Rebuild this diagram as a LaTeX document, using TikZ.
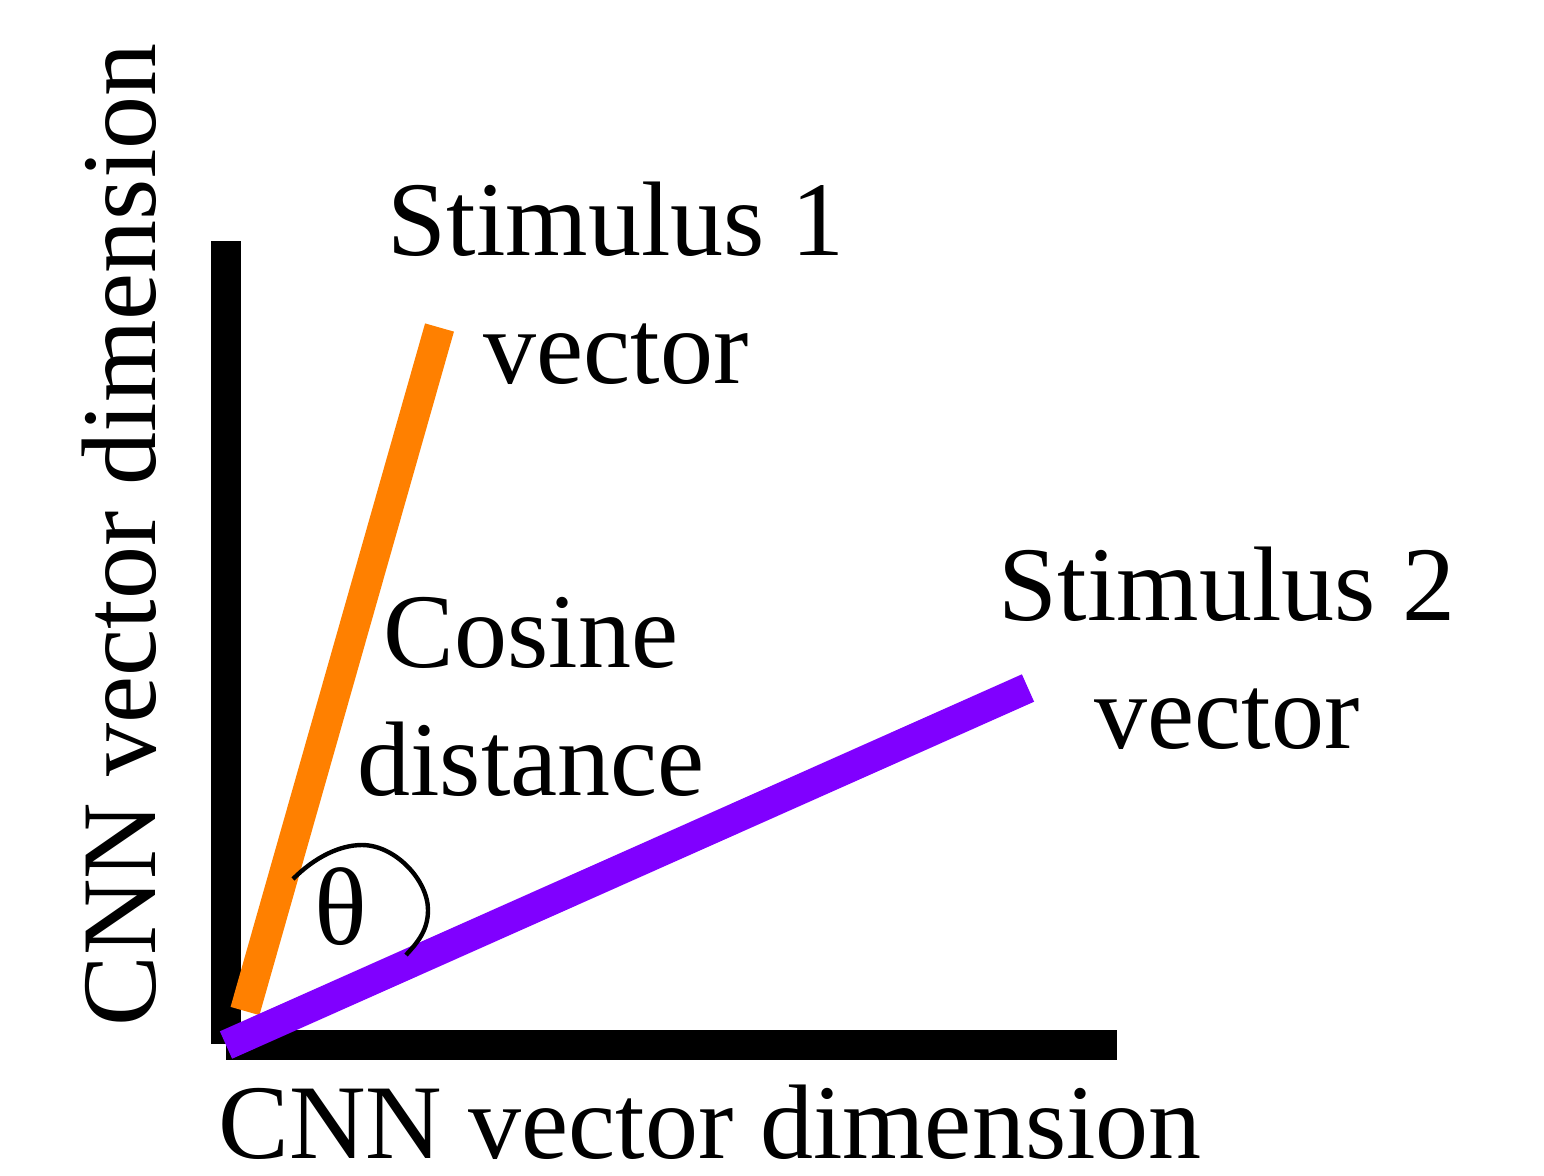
\documentclass[tikz,border=0pt]{standalone}
\usepackage{fontspec}
\setmainfont{Liberation Serif}
\definecolor{stimorange}{RGB}{255,128,0}
\definecolor{stimpurple}{RGB}{128,0,255}

\begin{document}
\begin{tikzpicture}[x=0.5pt,y=-0.5pt,
  axisbar/.style={line width=15pt},
  vec/.style={line width=15pt},
  lbl/.style={inner sep=0pt,align=center,font=\fontsize{53}{64}\selectfont}]
  \useasboundingbox (0,0) rectangle (1544,1175);
  % axes
  \coordinate (ytop) at (225.5,241);
  \coordinate (ybot) at (225.5,1044);
  \coordinate (xbeg) at (226,1044.5);
  \coordinate (xend) at (1117,1044.5);
  \draw[axisbar] (ytop) -- (ybot);
  \draw[axisbar] (xbeg) -- (xend);
  % the two stimulus vectors
  \coordinate (v1a) at (245,1011);
  \coordinate (v1b) at (439.5,327.5);
  \coordinate (v2a) at (226,1045);
  \coordinate (v2b) at (1028,688);
  \draw[vec,stimorange] (v1a) -- (v1b);
  \draw[vec,stimpurple] (v2a) -- (v2b);
  % angle between them
  \draw[line width=2.2pt] (293,879) .. controls (315,857) and (340,845) .. (362,845)
    .. controls (395,845) and (428,880) .. (428,910)
    .. controls (428,930) and (418,942) .. (406,955);
  \node[lbl,font=\fontsize{55}{64}\selectfont] (theta) at (341,907) {θ};
  % labels (base = baseline of the last line)
  \node[lbl,anchor=base] (stim1) at (616,383) {Stimulus 1\\vector};
  \node[lbl,anchor=base] (cosdist) at (531,795) {Cosine\\distance};
  \node[lbl,anchor=base] (stim2) at (1227,748) {Stimulus 2\\vector};
  \node[lbl,anchor=base] (xlab) at (710,1158) {CNN vector dimension};
  \node[lbl,anchor=base,rotate=90] (ylab) at (155,535) {CNN vector dimension};
\end{tikzpicture}
\end{document}
